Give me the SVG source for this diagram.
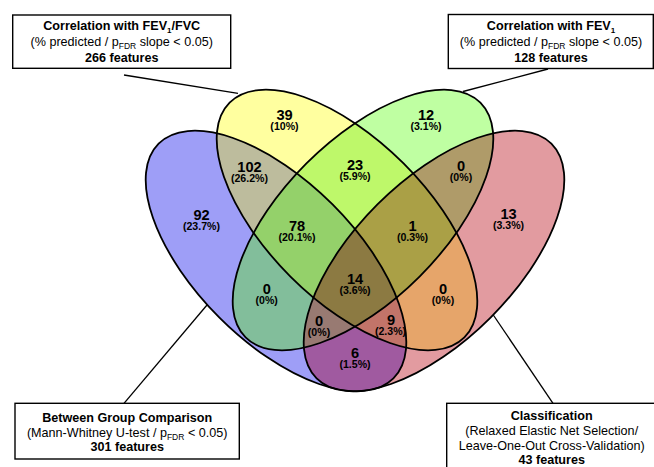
<svg xmlns="http://www.w3.org/2000/svg" xmlns:xlink="http://www.w3.org/1999/xlink" width="654" height="467" viewBox="0 0 654 467">
<style>
text{font-family:"Liberation Sans",Arial,sans-serif;fill:#000}
.n{font-size:14.6px;font-weight:bold;text-anchor:middle}
.p{font-size:10.6px;font-weight:bold;text-anchor:middle}
.bt{font-size:12.6px;text-anchor:middle}
.b{font-weight:bold}
.box{fill:#fff;stroke:#000;stroke-width:1.4}
.outl{fill:none;stroke:#000;stroke-width:1.8}
.con line{stroke:#000;stroke-width:1.3}
</style>
<defs>
<ellipse id="eB" cx="276" cy="261" rx="166" ry="80" transform="rotate(45 276 261)"/>
<ellipse id="eY" cx="347" cy="220" rx="166" ry="80" transform="rotate(45 347 220)"/>
<ellipse id="eG" cx="363" cy="220" rx="166" ry="80" transform="rotate(-45 363 220)"/>
<ellipse id="eR" cx="434" cy="261" rx="166" ry="80" transform="rotate(-45 434 261)"/>
<clipPath id="cB"><use xlink:href="#eB"/></clipPath>
<clipPath id="cY"><use xlink:href="#eY"/></clipPath>
<clipPath id="cG"><use xlink:href="#eG"/></clipPath>
<clipPath id="cR"><use xlink:href="#eR"/></clipPath>
</defs>
<rect width="654" height="467" fill="#fff"/>
<g id="regions">
<use xlink:href="#eB" fill="#9E9EF7"/>
<use xlink:href="#eY" fill="#FFFF9F"/>
<use xlink:href="#eG" fill="#BFFFA2"/>
<use xlink:href="#eR" fill="#E29BA0"/>
<use xlink:href="#eY" clip-path="url(#cB)" fill="#BDBC9D"/>
<use xlink:href="#eG" clip-path="url(#cY)" fill="#BEF86A"/>
<use xlink:href="#eR" clip-path="url(#cG)" fill="#AF9B69"/>
<use xlink:href="#eG" clip-path="url(#cB)" fill="#82BE9B"/>
<use xlink:href="#eR" clip-path="url(#cY)" fill="#E6A56A"/>
<use xlink:href="#eR" clip-path="url(#cB)" fill="#A05AA0"/>
<g clip-path="url(#cG)"><use xlink:href="#eY" clip-path="url(#cB)" fill="#94D16A"/></g>
<g clip-path="url(#cR)"><use xlink:href="#eG" clip-path="url(#cY)" fill="#AAA046"/></g>
<g clip-path="url(#cR)"><use xlink:href="#eG" clip-path="url(#cB)" fill="#987A72"/></g>
<g clip-path="url(#cR)"><use xlink:href="#eY" clip-path="url(#cB)" fill="#C27469"/></g>
<g clip-path="url(#cR)"><g clip-path="url(#cG)"><use xlink:href="#eY" clip-path="url(#cB)" fill="#8C7A42"/></g></g>
</g>
<g id="set-between"><use xlink:href="#eB" class="outl"/></g>
<g id="set-fev1fvc"><use xlink:href="#eY" class="outl"/></g>
<g id="set-fev1"><use xlink:href="#eG" class="outl"/></g>
<g id="set-classification"><use xlink:href="#eR" class="outl"/></g>
<g id="counts">
<text class="n" x="284.5" y="119.5">39</text><text class="p" x="284.5" y="129.5">(10%)</text>
<text class="n" x="426" y="119.5">12</text><text class="p" x="426" y="129.5">(3.1%)</text>
<text class="n" x="249.5" y="172">102</text><text class="p" x="249.5" y="182">(26.2%)</text>
<text class="n" x="355" y="169.5">23</text><text class="p" x="355" y="179.5">(5.9%)</text>
<text class="n" x="461" y="171">0</text><text class="p" x="461" y="181">(0%)</text>
<text class="n" x="201.5" y="219.5">92</text><text class="p" x="201.5" y="229.5">(23.7%)</text>
<text class="n" x="508.5" y="219">13</text><text class="p" x="508.5" y="229">(3.3%)</text>
<text class="n" x="297" y="230.5">78</text><text class="p" x="297" y="240.5">(20.1%)</text>
<text class="n" x="412.5" y="230.5">1</text><text class="p" x="412.5" y="240.5">(0.3%)</text>
<text class="n" x="355" y="284">14</text><text class="p" x="355" y="294">(3.6%)</text>
<text class="n" x="266.7" y="294">0</text><text class="p" x="266.7" y="304">(0%)</text>
<text class="n" x="443" y="294">0</text><text class="p" x="443" y="304">(0%)</text>
<text class="n" x="319" y="325.5">0</text><text class="p" x="319" y="335.5">(0%)</text>
<text class="n" x="391" y="325">9</text><text class="p" x="390.5" y="335">(2.3%)</text>
<text class="n" x="355" y="358.3">6</text><text class="p" x="355" y="368.3">(1.5%)</text>
</g>
<g id="connectors" class="con">
<line x1="124" y1="75" x2="238" y2="93.3"/>
<line x1="548" y1="69" x2="463" y2="91.5"/>
<line x1="207" y1="305" x2="124" y2="403.3"/>
<line x1="493.3" y1="315" x2="553" y2="403.3"/>
</g>
<g id="box-fev1fvc">
<rect class="box" x="12.7" y="15" width="218" height="53.3"/>
<text class="bt b" x="121.7" y="29.5">Correlation with FEV<tspan font-size="8" dy="3">1</tspan><tspan dy="-3">/FVC</tspan></text>
<text class="bt" x="121.7" y="45.5">(% predicted / p<tspan font-size="8.5" dy="3">FDR</tspan><tspan dy="-3"> slope &lt; 0.05)</tspan></text>
<text class="bt b" x="121.7" y="61.5">266 features</text>
</g>
<g id="box-fev1">
<rect class="box" x="448.3" y="14.5" width="205" height="54"/>
<text class="bt b" x="551" y="29.5">Correlation with FEV<tspan font-size="8" dy="3">1</tspan></text>
<text class="bt" x="551" y="45.5">(% predicted / p<tspan font-size="8.5" dy="3">FDR</tspan><tspan dy="-3"> slope &lt; 0.05)</tspan></text>
<text class="bt b" x="551" y="61.5">128 features</text>
</g>
<g id="box-between">
<rect class="box" x="15" y="403.3" width="224.3" height="55.7"/>
<text class="bt b" x="127.2" y="421.5">Between Group Comparison</text>
<text class="bt" x="127.2" y="436.5">(Mann-Whitney U-test / p<tspan font-size="8.5" dy="3">FDR</tspan><tspan dy="-3"> &lt; 0.05)</tspan></text>
<text class="bt b" x="127.2" y="451">301 features</text>
</g>
<g id="box-classification">
<rect class="box" x="446.7" y="403.3" width="210" height="70"/>
<text class="bt b" x="551.7" y="419.5">Classification</text>
<text class="bt" x="551.7" y="434.5">(Relaxed Elastic Net Selection/</text>
<text class="bt" x="551.7" y="449.5">Leave-One-Out Cross-Validation)</text>
<text class="bt b" x="551.7" y="463.5">43 features</text>
</g>
</svg>
